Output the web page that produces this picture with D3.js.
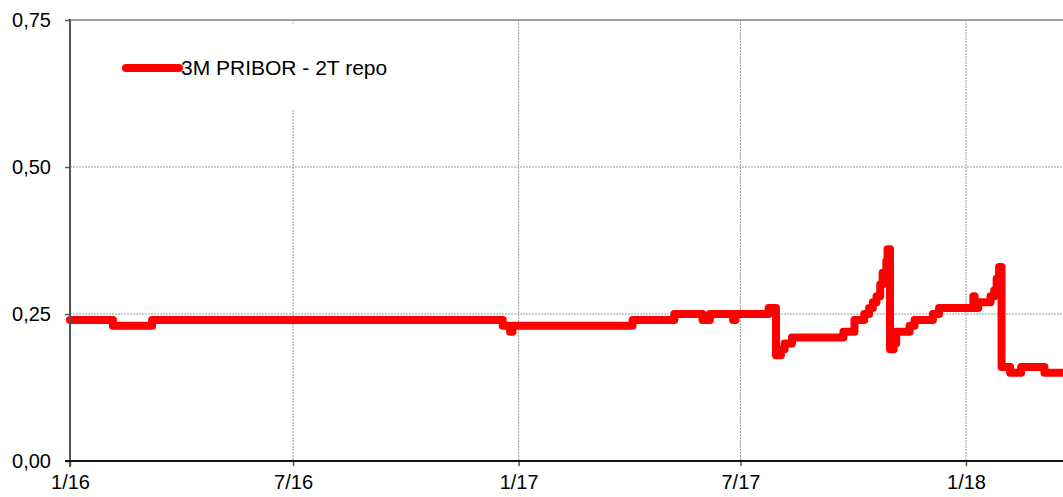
<!DOCTYPE html>
<html>
<head>
<meta charset="utf-8">
<script src="https://cdn.jsdelivr.net/npm/d3@7"></script>
<style>
body { margin: 0; background: #fff; }
text { font-family: Arial, "Liberation Sans", sans-serif; fill: #000; }
</style>
</head>
<body>
<div id="chart"></div>
<script>
// step points: value holds from this date until the next one
var dates = ["2016-01-01","2016-02-05","2016-03-08","2016-12-19","2016-12-25","2016-12-27",
	"2017-04-04","2017-05-08","2017-05-31","2017-06-06","2017-06-25","2017-06-27","2017-07-24",
	"2017-07-30","2017-08-03","2017-08-06","2017-08-12","2017-09-23","2017-10-02","2017-10-10",
	"2017-10-14","2017-10-17","2017-10-20","2017-10-23","2017-10-25","2017-10-28","2017-10-29",
	"2017-10-31","2017-11-03","2017-11-05","2017-11-16","2017-11-20","2017-12-05","2017-12-10",
	"2018-01-07","2018-01-08","2018-01-11","2018-01-21","2018-01-24","2018-01-26","2018-01-28",
	"2018-01-30","2018-02-06","2018-02-15","2018-03-06","2018-03-22"];
var values = [0.24,0.23,0.24,0.23,0.22,0.23,
	0.24,0.25,0.24,0.25,0.24,0.25,0.26,
	0.18,0.19,0.20,0.21,0.22,0.24,0.25,
	0.26,0.27,0.28,0.30,0.32,0.34,0.36,
	0.19,0.20,0.22,0.23,0.24,0.25,0.26,
	0.28,0.26,0.27,0.28,0.29,0.31,0.33,
	0.16,0.15,0.16,0.15,0.15];
var yTicks = [0, 0.25, 0.5, 0.75];
var xTicks = ["2016-01-01","2016-07-01","2017-01-01","2017-07-01","2018-01-01"];
var seriesName = "3M PRIBOR - 2T repo";

var parse = d3.timeParse("%Y-%m-%d");
var data = dates.map(function(d, i) { return { date: parse(d), value: values[i] }; });

var W = 1063, H = 497;
var m = { left: 70, top: 20, bottom: 461, right: 1063 };

var svg = d3.select("#chart").append("svg")
	.attr("width", W)
	.attr("height", H);

var x = d3.scaleTime()
	.domain([parse("2016-01-01"), parse("2018-01-01")])
	.range([m.left, 966]);
var y = d3.scaleLinear()
	.domain([0, 0.75])
	.range([m.bottom, m.top]);

var fmtY = function(v) { return d3.format(".2f")(v).replace(".", ","); };
var fmtX = function(d) { return (d.getMonth() + 1) + "/" + d3.timeFormat("%y")(d); };

// gridlines
svg.selectAll("line.hg")
	.data([0.25, 0.5])
	.enter().append("line")
	.attr("class", "hg")
	.attr("x1", m.left).attr("x2", m.right)
	.attr("y1", function(d) { return y(d); }).attr("y2", function(d) { return y(d); })
	.style("stroke", "#9a9a9a").style("stroke-width", 1).style("stroke-dasharray", "2,1");
svg.selectAll("line.vg")
	.data(xTicks.slice(1).map(parse))
	.enter().append("line")
	.attr("class", "vg")
	.attr("x1", function(d) { return x(d); }).attr("x2", function(d) { return x(d); })
	.attr("y1", m.top).attr("y2", m.bottom)
	.style("stroke", "#9a9a9a").style("stroke-width", 1).style("stroke-dasharray", "2,1");
svg.append("line")
	.attr("x1", m.left).attr("x2", m.right)
	.attr("y1", y(0.75)).attr("y2", y(0.75))
	.style("stroke", "#a0a0a0").style("stroke-width", 2);

// legend box hides the gridlines behind it
svg.append("rect")
	.attr("x", 80).attr("y", 24)
	.attr("width", 340).attr("height", 85)
	.style("fill", "#fff");

// series
svg.append("clipPath").attr("id", "plot")
	.append("rect")
	.attr("x", m.left - 5).attr("y", 0)
	.attr("width", m.right - m.left + 5).attr("height", H);

var line = d3.line()
	.x(function(d) { return x(d.date); })
	.y(function(d) { return y(d.value); })
	.curve(d3.curveStepAfter);

svg.append("path")
	.datum(data)
	.attr("clip-path", "url(#plot)")
	.attr("d", line)
	.style("fill", "none")
	.style("stroke", "#ff0000")
	.style("stroke-width", 8)
	.style("stroke-linejoin", "round")
	.style("stroke-linecap", "round");

// axes
var yAxis = svg.append("g")
	.attr("transform", "translate(" + m.left + ",0)")
	.call(d3.axisLeft(y).tickValues(yTicks).tickFormat(fmtY).tickSize(5).tickPadding(14));
yAxis.select(".domain").remove();
yAxis.selectAll(".tick line").style("stroke", "#555").style("stroke-width", 1.5);
yAxis.selectAll("text").style("font-size", "20px").style("fill", "#000");
svg.append("line")
	.attr("x1", m.left).attr("x2", m.left)
	.attr("y1", m.top - 1).attr("y2", m.bottom + 6)
	.style("stroke", "#555").style("stroke-width", 2);

var xAxis = svg.append("g")
	.attr("transform", "translate(0," + m.bottom + ")")
	.call(d3.axisBottom(x).tickValues(xTicks.map(parse)).tickFormat(fmtX).tickSize(5).tickPadding(9));
xAxis.select(".domain").remove();
xAxis.selectAll(".tick line").style("stroke", "#555").style("stroke-width", 1.5);
xAxis.selectAll("text").style("font-size", "20px").style("fill", "#000");
svg.append("line")
	.attr("x1", m.left - 5).attr("x2", m.right)
	.attr("y1", m.bottom).attr("y2", m.bottom)
	.style("stroke", "#111").style("stroke-width", 2);

// legend
svg.append("line")
	.attr("x1", 126).attr("x2", 179)
	.attr("y1", 68).attr("y2", 68)
	.style("stroke", "#ff0000")
	.style("stroke-width", 8)
	.style("stroke-linecap", "round");
svg.append("text")
	.attr("x", 181)
	.attr("y", 75)
	.style("font-size", "21px")
	.text(seriesName);
</script>
</body>
</html>
